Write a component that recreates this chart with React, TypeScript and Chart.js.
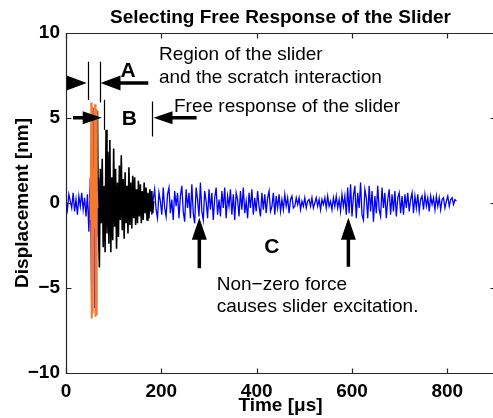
import React, { useEffect, useRef } from 'react';
import { Chart, registerables } from 'chart.js';

Chart.register(...registerables);

const TITLE = 'Selecting Free Response of the Slider';
const X_LABEL = 'Time [μs]';
const Y_LABEL = 'Displacement [nm]';
const X_TICKS = [0, 200, 400, 600, 800];
const Y_TICKS = [-10, -5, 0, 5, 10];
const X_MIN = 0;
const X_MAX = 900;
const Y_MIN = -10;
const Y_MAX = 10;

// Blue: full recorded signal, sampled every 3 μs from 0 μs
const BLUE_T0 = 0;
const BLUE_DT = 3;
const BLUE_Y = [
  0.2, -0.4, 0.5, 0.1, -0.3, 0.6, -0.5, 0.2, -0.7, 0.4,
  -0.2, 0.6, -0.4, 0.3, -0.8, 0.5, -1.7, 1.5, -6.4, 5.6,
  -6.2, 5.0, -2.0, 1.5, -1.2, 0.9, -0.8, 1.0, -0.7, 0.6,
  -0.9, 0.7, -0.5, 0.8, -0.6, 0.5, -0.7, 0.4, -0.6, 0.5,
  -0.4, 0.6, -0.5, 0.3, -0.6, 0.5, -0.4, 0.6, -0.3, 0.5,
  -0.6, 0.4, -0.5, 0.6, -0.3, 0.5, -0.4, 0.3, -0.6, 0.4,
  -0.7, 0.2, 0.8, -0.4, -0.9, 0.6, 0.1, -0.7, 0.9, -0.3,
  -0.8, 0.5, 0.9, -0.6, 0.2, -1.0, 0.7, -0.2, 0.6, -0.9,
  0.4, 1.0, -0.5, -1.1, 0.8, -0.3, 0.6, -0.9, 1.1, -0.6,
  -1.2, 0.9, 0.2, -0.8, 1.2, -0.5, -1.0, 0.7, 0.1, -0.9,
  0.8, -0.4, 0.6, -1.0, 0.3, 0.9, -0.7, 0.2, -0.8, 0.7,
  -0.3, 0.9, -0.9, 0.4, -0.2, 0.8, -0.7, 0.5, -1.0, 0.6,
  0.2, -0.8, 0.7, -0.4, 0.9, -0.6, 0.1, -0.9, 0.6, -0.3,
  0.8, -0.7, 0.3, -0.5, 0.7, -0.2, -0.8, 0.6, -0.4, 0.5,
  -0.6, 0.3, 0.7, -0.5, -0.2, 0.6, -0.7, 0.4, -0.3, 0.5,
  -0.5, 0.2, -0.4, 0.5, -0.2, 0.3, -0.6, 0.2, 0.4, -0.3,
  -0.2, 0.3, -0.1, 0.3, -0.4, 0.1, -0.2, 0.3, -0.3, 0.1,
  0.2, -0.2, 0.3, -0.3, 0.0, 0.3, -0.2, 0.2, -0.4, 0.2,
  -0.1, 0.3, -0.3, 0.4, -0.2, 0.1, -0.4, 0.3, -0.2, 0.4,
  -0.3, 0.2, -0.5, 0.5, -0.2, 0.4, -0.7, 0.9, -0.6, 1.1,
  -0.8, 0.4, 1.0, -0.9, 0.6, -0.3, 1.2, -0.7, -1.0, 0.8,
  0.3, -0.9, 1.0, -0.5, 0.7, -1.1, 0.4, -0.6, 1.0, -0.4,
  -0.8, 0.9, -0.3, 0.6, -0.9, 0.2, 0.8, -0.7, 0.5, -0.5,
  0.7, -0.8, 0.3, 0.6, -0.6, 0.4, -0.7, 0.5, -0.3, 0.6,
  -0.5, 0.2, 0.6, -0.6, 0.4, -0.3, 0.5, -0.5, 0.2, 0.4,
  -0.4, 0.5, -0.2, 0.3, -0.5, 0.4, -0.1, 0.3, -0.4, 0.4,
  -0.2, 0.3, -0.4, 0.2, 0.3, -0.3, 0.1, 0.4, -0.2, 0.2,
  0.3, -0.1, 0.2, 0.1,
];

// Black: selected free response, sampled every 2 μs from 64 μs
const BLACK_T0 = 64;
const BLACK_DT = 2;
const BLACK_Y = [
  0.4, 5.4, -1.5, -3.8, 2.0, -1.2, 2.6, -2.6, 1.0, -2.9,
  4.3, -1.8, 3.0, -2.4, 3.7, -2.9, 1.5, -2.2, 3.2, -1.4,
  2.0, -2.7, 1.2, -2.0, 2.2, -1.0, 2.8, -1.6, 1.4, -2.1,
  1.8, -1.2, 1.0, -1.8, 2.1, -1.3, 1.2, -1.5, 1.6, -0.9,
  1.5, -1.3, 0.8, -1.2, 1.3, -0.8, 1.1, -1.2, 0.7, -1.0,
  1.2, -0.6, 0.9, -1.0, 0.6, -0.9, 0.8, -0.5, 0.7, -0.6,
  0.1,
];

// Orange: slider / scratch interaction, sampled every 1 μs from 51 μs
const ORANGE_T0 = 51;
const ORANGE_DT = 1;
const ORANGE_Y = [
  0.3, -1.0, 5.9, -6.8, 5.6, -6.5, 1.5, -1.2, 2.0, -1.5,
  5.8, -6.7, 5.5, -6.6, 1.0, -0.3,
];

// Annotation geometry in data units (μs, nm)
const MARK_LINES = [
  { x: 45.5, y1: 8.3, y2: 6.05 },
  { x: 72, y1: 8.3, y2: 5.9 },
  { x: 78.7, y1: 6.06, y2: 4.3 },
  { x: 181, y1: 5.96, y2: 3.9 },
];
const ARROWS = [
  { x1: -40, y1: 7.05, x2: 43.4, y2: 7.05, head: 20, half: 7.5, shaft: 3.5 },
  { x1: 172.7, y1: 7.05, x2: 72.4, y2: 7.05, head: 20, half: 7.5, shaft: 3.5 },
  { x1: 14.7, y1: 5.0, x2: 74.9, y2: 5.0, head: 19, half: 6.5, shaft: 3.5 },
  { x1: 274, y1: 5.0, x2: 183.6, y2: 5.0, head: 19, half: 6.5, shaft: 3.5 },
  { x1: 279.7, y1: -3.84, x2: 279.7, y2: -0.88, head: 22, half: 7.5, shaft: 3.5 },
  { x1: 592.4, y1: -3.75, x2: 592.4, y2: -0.88, head: 22, half: 7.5, shaft: 3.5 },
];
const LABELS = [
  { text: 'A', x: 130, y: 7.43, bold: true, size: 21, align: 'center' },
  { text: 'B', x: 133, y: 4.59, bold: true, size: 21, align: 'center' },
  { text: 'C', x: 431.6, y: -2.94, bold: true, size: 21, align: 'center' },
  { text: 'Region of the slider', x: 195, y: 8.41, bold: false, size: 19, align: 'left' },
  { text: 'and the scratch interaction', x: 195, y: 7.06, bold: false, size: 19, align: 'left' },
  { text: 'Free response of the slider', x: 226.6, y: 5.37, bold: false, size: 19, align: 'left' },
  { text: 'Non\u2212zero force', x: 316.2, y: -5.12, bold: false, size: 19, align: 'left' },
  { text: 'causes slider excitation.', x: 316.2, y: -6.39, bold: false, size: 19, align: 'left' },
];

const FONT = "'Liberation Sans', Arial, Helvetica, sans-serif";

function toPoints(t0: number, dt: number, ys: number[]) {
  return ys.map((y, i) => ({ x: t0 + i * dt, y }));
}

function drawArrow(ctx: CanvasRenderingContext2D, x1: number, y1: number, x2: number, y2: number, head: number, half: number, shaft: number) {
  const dx = x2 - x1;
  const dy = y2 - y1;
  const len = Math.hypot(dx, dy);
  const ux = dx / len;
  const uy = dy / len;
  const bx = x2 - ux * head;
  const by = y2 - uy * head;
  ctx.lineWidth = shaft;
  ctx.lineCap = 'butt';
  ctx.beginPath();
  ctx.moveTo(x1, y1);
  ctx.lineTo(bx + ux * 1, by + uy * 1);
  ctx.stroke();
  ctx.beginPath();
  ctx.moveTo(x2, y2);
  ctx.lineTo(bx - uy * half, by + ux * half);
  ctx.lineTo(bx + uy * half, by - ux * half);
  ctx.closePath();
  ctx.fill();
}

const annotPlugin = {
  id: 'annot',
  afterDatasetsDraw(chart: any) {
    const { ctx, chartArea: a } = chart;
    const xs = chart.scales.x;
    const ys = chart.scales.y;
    const px = (v: number) => xs.getPixelForValue(v);
    const py = (v: number) => ys.getPixelForValue(v);
    ctx.save();
    ctx.beginPath();
    ctx.rect(a.left, a.top, a.right - a.left, a.bottom - a.top);
    ctx.clip();
    ctx.strokeStyle = '#000';
    ctx.fillStyle = '#000';
    ctx.lineWidth = 1.2;
    for (const l of MARK_LINES) {
      const x = Math.round(px(l.x)) + 0.5;
      ctx.beginPath();
      ctx.moveTo(x, py(l.y1));
      ctx.lineTo(x, py(l.y2));
      ctx.stroke();
    }
    for (const ar of ARROWS) {
      drawArrow(ctx, px(ar.x1), py(ar.y1), px(ar.x2), py(ar.y2), ar.head, ar.half, ar.shaft);
    }
    ctx.restore();
    ctx.save();
    ctx.fillStyle = '#000';
    ctx.textBaseline = 'alphabetic';
    for (const lb of LABELS) {
      ctx.font = `${lb.bold ? 'bold ' : ''}${lb.size}px ${FONT}`;
      ctx.textAlign = lb.align as CanvasTextAlign;
      ctx.fillText(lb.text, px(lb.x), py(lb.y));
    }
    ctx.restore();
  },
};

const framePlugin = {
  id: 'frame',
  afterDraw(chart: any) {
    const { ctx, chartArea: a } = chart;
    const xs = chart.scales.x;
    const ys = chart.scales.y;
    const L = Math.round(a.left) + 0.5;
    const R = Math.round(a.right) + 0.5;
    const T = Math.round(a.top) + 0.5;
    const B = Math.round(a.bottom) + 0.5;
    const tick = 5;
    ctx.save();
    ctx.strokeStyle = '#262626';
    ctx.lineWidth = 1.2;
    ctx.beginPath();
    ctx.rect(L, T, R - L, B - T);
    ctx.stroke();
    ctx.beginPath();
    for (const v of X_TICKS) {
      const x = Math.round(xs.getPixelForValue(v)) + 0.5;
      ctx.moveTo(x, B);
      ctx.lineTo(x, B - tick);
      ctx.moveTo(x, T);
      ctx.lineTo(x, T + tick);
    }
    for (const v of Y_TICKS) {
      const y = Math.round(ys.getPixelForValue(v)) + 0.5;
      ctx.moveTo(L, y);
      ctx.lineTo(L + tick, y);
      ctx.moveTo(R, y);
      ctx.lineTo(R - tick, y);
    }
    ctx.stroke();
    ctx.restore();
  },
};

const fmt = (v: number) => (v < 0 ? '\u2212' + Math.abs(v) : String(v));

export default function App() {
  const ref = useRef<HTMLCanvasElement | null>(null);
  useEffect(() => {
    if (!ref.current) return;
    const chart = new Chart(ref.current, {
      type: 'line',
      data: {
        datasets: [
          {
            label: 'Interaction',
            data: toPoints(ORANGE_T0, ORANGE_DT, ORANGE_Y),
            borderColor: '#f47a30',
            borderWidth: 2,
            pointRadius: 0,
            tension: 0,
          },
          {
            label: 'Free response',
            data: toPoints(BLACK_T0, BLACK_DT, BLACK_Y),
            borderColor: '#000000',
            borderWidth: 1.6,
            pointRadius: 0,
            tension: 0,
          },
          {
            label: 'Signal',
            data: toPoints(BLUE_T0, BLUE_DT, BLUE_Y),
            borderColor: '#0000ff',
            borderWidth: 1.3,
            pointRadius: 0,
            tension: 0,
          },
        ],
      },
      options: {
        responsive: false,
        devicePixelRatio: 1,
        animation: false,
        events: [],
        layout: { padding: { left: 0, right: 15, top: 0, bottom: 0 } },
        plugins: {
          legend: { display: false },
          tooltip: { enabled: false },
          title: {
            display: true,
            text: TITLE,
            fullSize: false,
            color: '#000',
            font: { family: FONT, size: 19, weight: 'bold' },
            padding: { top: 6, bottom: 4 },
          },
        },
        scales: {
          x: {
            type: 'linear',
            min: X_MIN,
            max: X_MAX,
            grid: { display: false, drawTicks: false },
            border: { display: false },
            afterBuildTicks: (s: any) => {
              s.ticks = X_TICKS.map((v) => ({ value: v }));
            },
            afterFit: (s: any) => {
              s.height = 45;
            },
            ticks: {
              color: '#000',
              padding: 7,
              maxRotation: 0,
              font: { family: FONT, size: 19, weight: 'bold' },
              callback: (v: any) => fmt(Number(v)),
            },
            title: {
              display: true,
              text: X_LABEL,
              color: '#000',
              font: { family: FONT, size: 19, weight: 'bold' },
              padding: { top: 0, bottom: 1 },
            },
          },
          y: {
            type: 'linear',
            min: Y_MIN,
            max: Y_MAX,
            grid: { display: false, drawTicks: false },
            border: { display: false },
            afterBuildTicks: (s: any) => {
              s.ticks = Y_TICKS.map((v) => ({ value: v }));
            },
            afterFit: (s: any) => {
              s.width = 66;
            },
            ticks: {
              color: '#000',
              padding: 6,
              font: { family: FONT, size: 19, weight: 'bold' },
              callback: (v: any) => fmt(Number(v)),
            },
            title: {
              display: true,
              text: Y_LABEL,
              color: '#000',
              font: { family: FONT, size: 19, weight: 'bold' },
              padding: { top: 11, bottom: 0 },
            },
          },
        },
      },
      plugins: [annotPlugin, framePlugin],
    } as any);
    return () => chart.destroy();
  }, []);

  return (
    <div
      style={{
        position: 'absolute',
        left: 0,
        top: 0,
        width: 493,
        height: 418,
        overflow: 'hidden',
        background: '#fff',
      }}
    >
      <canvas ref={ref} width={510} height={418} style={{ display: 'block' }} />
    </div>
  );
}
